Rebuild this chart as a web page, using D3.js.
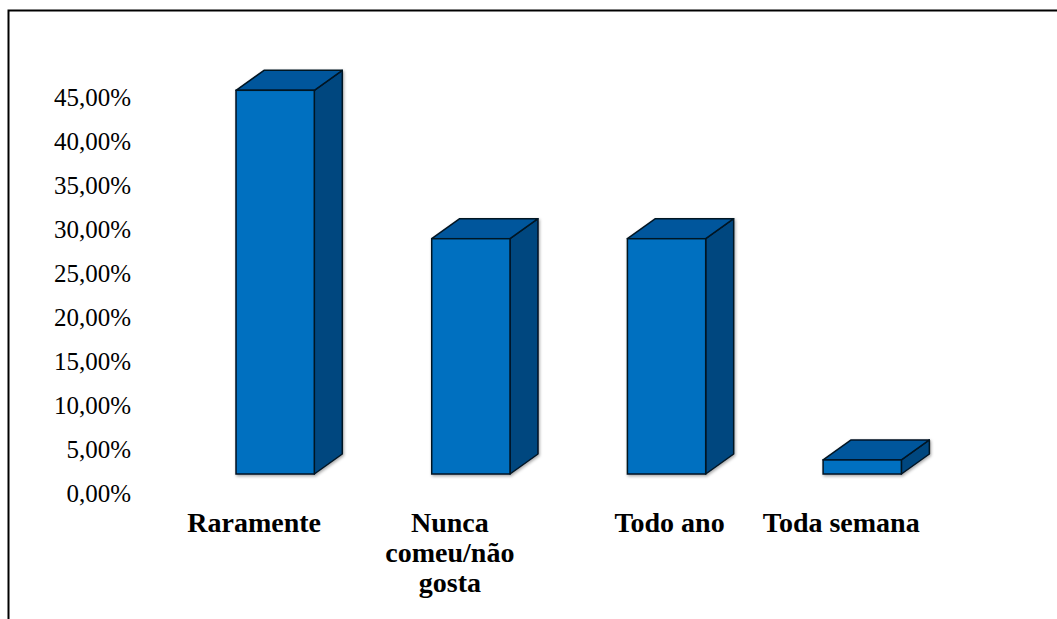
<!DOCTYPE html>
<html>
<head>
<meta charset="utf-8">
<script src="https://cdn.jsdelivr.net/npm/d3@7"></script>
<style>
  html, body { margin: 0; padding: 0; background: #fff; }
  svg { display: block; }
</style>
</head>
<body>
<svg id="chart" width="1057" height="619"></svg>
<script>
// ---- data ----
const categories = ["Raramente", "Nunca comeu/não gosta", "Todo ano", "Toda semana"];
const values = [43.7, 26.8, 26.8, 1.6];            // percent
const tickValues = [0, 5, 10, 15, 20, 25, 30, 35, 40, 45];

// ---- layout ----
const W = 1057, H = 619;
const pxPerUnit = 8.78;
const frontBase = 474;     // front face floor line
const labelBase = 493;     // value-axis label line for 0
const depthX = 28, depthY = -20;
const labelOffset = -21;
const labelNudge = { "Todo ano": 24 };   // layout tweak for one label

const svg = d3.select("#chart");

const defs = svg.append("defs");
const f = defs.append("filter").attr("id", "shadow").attr("x", "-20%").attr("y", "-20%").attr("width", "140%").attr("height", "140%");
f.append("feDropShadow").attr("dx", 1).attr("dy", 1.5).attr("stdDeviation", 1.4).attr("flood-color", "#000").attr("flood-opacity", 0.35);

// frame
svg.append("path")
  .attr("d", `M8.5,${H} V10.5 H${W}`)
  .attr("fill", "none").attr("stroke", "#000").attr("stroke-width", 2);

const x = d3.scaleBand()
  .domain(categories)
  .range([118.6, 1018.8])
  .paddingInner(0.6)
  .paddingOuter(0.6);

const y = d3.scaleLinear().domain([0, 45]).range([frontBase, frontBase - 45 * pxPerUnit]);
const yAxisScale = d3.scaleLinear().domain([0, 45]).range([labelBase, labelBase - 45 * pxPerUnit]);

// value axis labels
const axis = d3.axisLeft(yAxisScale)
  .tickValues(tickValues)
  .tickSize(0)
  .tickPadding(0)
  .tickFormat(d => d.toFixed(2).replace(".", ",") + "%");

const gAxis = svg.append("g").attr("transform", "translate(131,0)").call(axis);
gAxis.select(".domain").remove();
gAxis.selectAll("text")
  .attr("font-family", "'Liberation Serif', 'Times New Roman', serif")
  .attr("font-size", 25)
  .attr("fill", "#000");

// bars
const bars = svg.append("g").attr("filter", "url(#shadow)");
const bw = x.bandwidth();
const data = categories.map((c, i) => ({ c, v: values[i] }));

const bar = bars.selectAll("g.bar").data(data).join("g").attr("class", "bar");

bar.append("path") // side
  .attr("d", d => {
    const x1 = x(d.c) + bw, yt = y(d.v), yb = y(0);
    return `M${x1},${yt} L${x1 + depthX},${yt + depthY} L${x1 + depthX},${yb + depthY} L${x1},${yb} Z`;
  })
  .attr("fill", "#00467F").attr("stroke", "#061424").attr("stroke-width", 1.5).attr("stroke-linejoin", "round");

bar.append("path") // top
  .attr("d", d => {
    const x0 = x(d.c), x1 = x0 + bw, yt = y(d.v);
    return `M${x0},${yt} L${x0 + depthX},${yt + depthY} L${x1 + depthX},${yt + depthY} L${x1},${yt} Z`;
  })
  .attr("fill", "#00579C").attr("stroke", "#061424").attr("stroke-width", 1.5).attr("stroke-linejoin", "round");

bar.append("rect") // front
  .attr("x", d => x(d.c))
  .attr("y", d => y(d.v))
  .attr("width", bw)
  .attr("height", d => y(0) - y(d.v))
  .attr("fill", "#0070C0").attr("stroke", "#061424").attr("stroke-width", 1.5);

// category labels
const labelFont = 28;
function wrap(text, maxW, measurer) {
  const words = text.split(" ");
  const lines = [];
  let cur = "";
  words.forEach(w => {
    const t = cur ? cur + " " + w : w;
    if (cur && measurer(t) > maxW) { lines.push(cur); cur = w; } else cur = t;
  });
  if (cur) lines.push(cur);
  return lines;
}
const measure = svg.append("text")
  .attr("font-family", "'Liberation Serif', 'Times New Roman', serif")
  .attr("font-weight", "bold").attr("font-size", labelFont).attr("visibility", "hidden");
const measurer = t => { measure.text(t); return measure.node().getComputedTextLength(); };

const gLab = svg.append("g");
data.forEach(d => {
  const lines = wrap(d.c, 185, measurer);
  const cx = x(d.c) + bw / 2 + labelOffset + (labelNudge[d.c] || 0);
  const t = gLab.append("text")
    .attr("x", cx)
    .attr("y", 532)
    .attr("text-anchor", "middle")
    .attr("font-family", "'Liberation Serif', 'Times New Roman', serif")
    .attr("font-weight", "bold")
    .attr("font-size", labelFont)
    .attr("fill", "#000");
  lines.forEach((ln, i) => {
    t.append("tspan").attr("x", cx).attr("dy", i === 0 ? 0 : 30).text(ln);
  });
});
measure.remove();
</script>
</body>
</html>
